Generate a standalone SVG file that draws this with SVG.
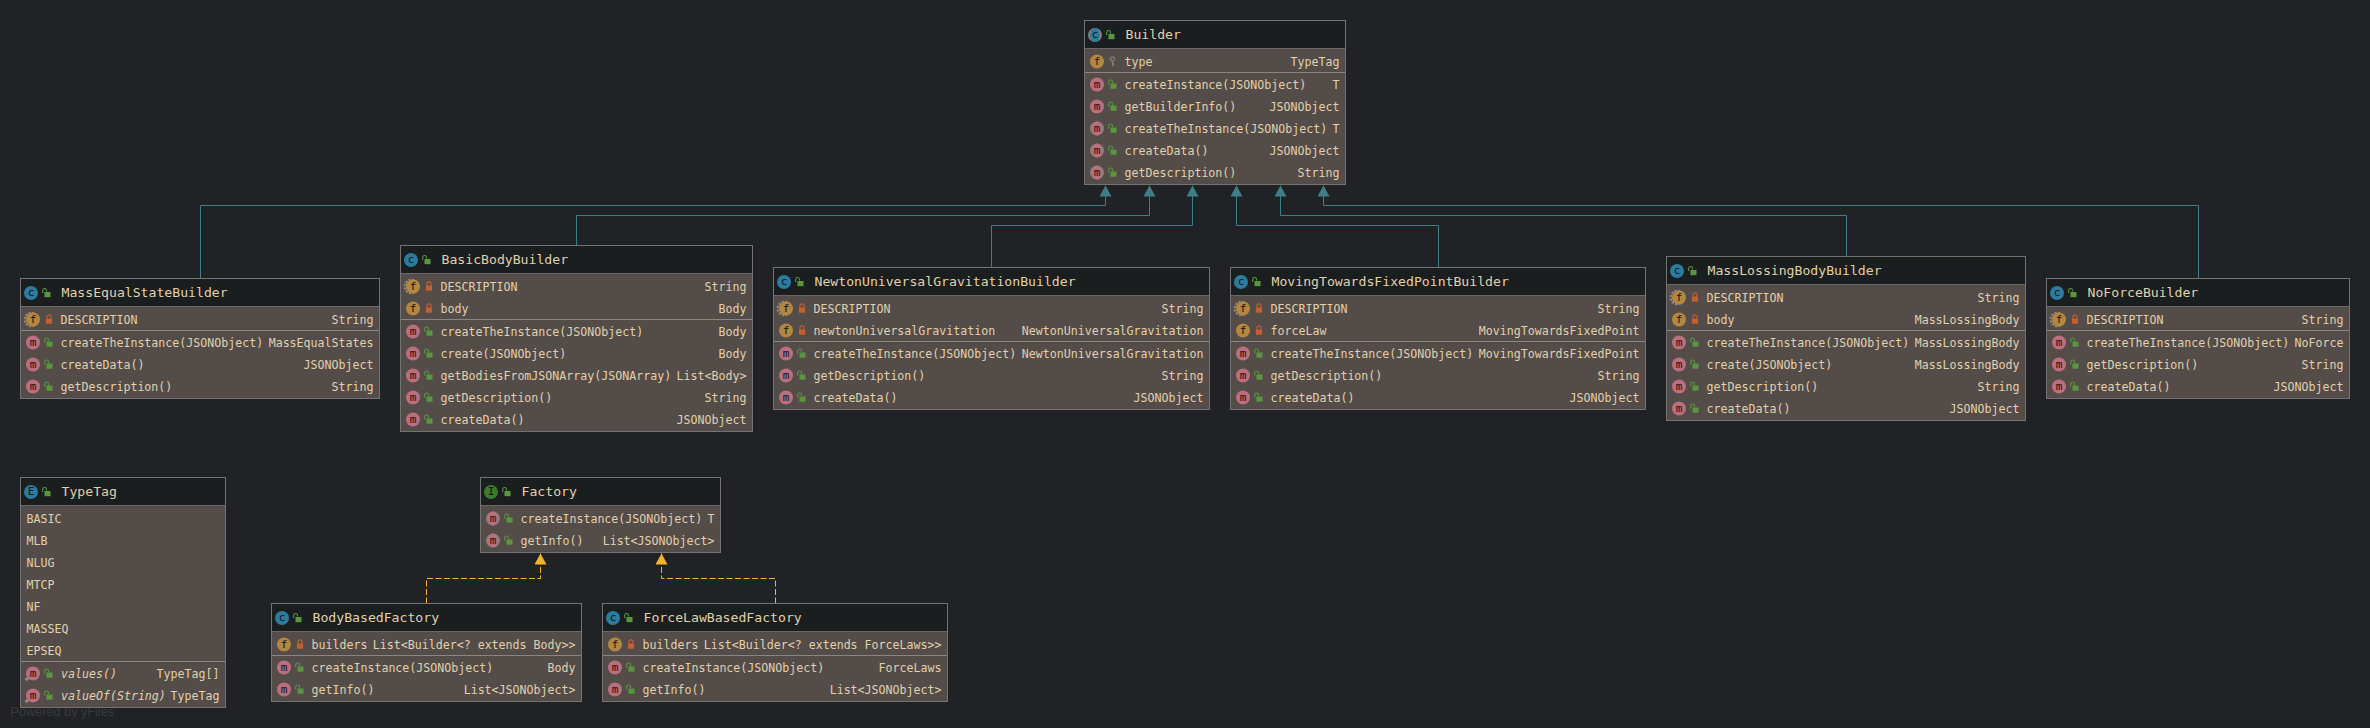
<svg xmlns="http://www.w3.org/2000/svg" width="2370" height="728" viewBox="0 0 2370 728">
<style>
text{font-family:"DejaVu Sans Mono","Liberation Mono",monospace;font-size:11.62px;fill:#E0D1AC}
.h{font-size:13.15px}
.r{text-anchor:end}
.i{font-style:italic}
.ic{font-size:11px;fill:#111;text-anchor:middle}
.pw{font-family:"Liberation Sans",Arial,sans-serif;font-size:12.7px;fill:#37393D}
.body{fill:#544C49}
.head{fill:#1A1E1F}
.frame{fill:none;stroke:#737373;stroke-width:1}
.sep{stroke:#8C8683;stroke-width:1}
.hl{stroke:#6A6766;stroke-width:1}
.inh{fill:none;stroke:#3F7E84;stroke-width:1}
.impl{fill:none;stroke:#F5B32A;stroke-width:1;stroke-dasharray:6 2.5}
</style>
<defs>
<marker id="aT" markerUnits="userSpaceOnUse" markerWidth="12" markerHeight="12" viewBox="0 0 11 12" refX="11" refY="6" orient="auto"><path d="M0 0L11 6L0 12Z" fill="#3F7E84"/></marker>
<marker id="aO" markerUnits="userSpaceOnUse" markerWidth="12" markerHeight="12" viewBox="0 0 11 12" refX="11" refY="6" orient="auto"><path d="M0 0L11 6L0 12Z" fill="#F5B32A"/></marker>
<g id="pub"><path d="M-3.8 0v-2.6a1.9 1.9 0 0 1 3.8 0v1" fill="none" stroke="#5A9640" stroke-width="1.1"/><rect x="-2" y="-1" width="6" height="5.2" fill="#5A9640"/></g>
<g id="pri"><path d="M-2 -1v-1.6a2 2 0 0 1 4 0v1.6" fill="none" stroke="#C4602F" stroke-width="1.1"/><rect x="-3.1" y="-1" width="6.2" height="5.2" fill="#C4602F"/></g>
<g id="key"><circle cx="0" cy="-2.6" r="2.1" fill="none" stroke="#8A7E76" stroke-width="1.3"/><path d="M0 -.5V4M0 2H1.6M0 4H1.6" fill="none" stroke="#8A7E76" stroke-width="1.3"/></g>
<g id="m"><circle r="7" fill="#BA6E7E"/><text class="ic" y="3.4">m</text></g>
<g id="ma"><circle r="7" fill="#8A7E7C"/><ellipse rx="5" ry="7" fill="#BA6E7E"/><text class="ic" y="3.4">m</text></g>
<g id="ms"><circle r="7" fill="#BA6E7E"/><text class="ic" y="3.4">m</text><path d="M-6.5 3.5L-4 5.5L-6 7.8L-8.5 5.8Z" fill="#8F8784"/></g>
<g id="f"><circle r="7" fill="#B2873F"/><text class="ic" y="3.4">f</text></g>
<g id="fs"><circle cx="-1.6" r="6.8" fill="none" stroke="#8F8784" stroke-width="2" stroke-dasharray="2.4 1.2"/><circle r="7" fill="#B2873F"/><text class="ic" y="3.4">f</text></g>
<g id="c"><circle r="7" fill="#2C7CA2"/><text class="ic" y="3.4">c</text></g>
<g id="ca"><circle r="7" fill="#8A7E7C"/><ellipse rx="5" ry="7" fill="#2C7CA2"/><text class="ic" y="3.4">c</text></g>
<g id="e"><circle r="7" fill="#2C7CA2"/><text class="ic" y="3.4">E</text></g>
<g id="in"><circle r="7" fill="#3D7A2C"/><text class="ic" y="3.4">I</text></g>
</defs>
<rect width="2370" height="728" fill="#202225"/>
<text class="pw" x="10.5" y="716">Powered by yFiles</text>
<g id="connectors">
<path class="inh" marker-end="url(#aT)" d="M200.5 278.5V205.5H1105.5V185.5"/>
<path class="inh" marker-end="url(#aT)" d="M576.5 245.5V215.5H1149.5V185.5"/>
<path class="inh" marker-end="url(#aT)" d="M991.5 267.5V225.5H1192.5V185.5"/>
<path class="inh" marker-end="url(#aT)" d="M1438.5 267.5V225.5H1236.5V185.5"/>
<path class="inh" marker-end="url(#aT)" d="M1846.5 256.5V215.5H1280.5V185.5"/>
<path class="inh" marker-end="url(#aT)" d="M2198.5 278.5V205.5H1323.5V185.5"/>
<path class="impl" marker-end="url(#aO)" d="M426.5 603.5V578.5H540.5V553.5"/>
<path class="impl" marker-end="url(#aO)" d="M775.5 603.5V578.5H661.5V553.5"/>
</g>
<g id="Builder" transform="translate(1084.5 20.5)">
<rect class="body" width="261" height="164"/><rect class="head" width="261" height="28"/><path class="hl" d="M0 28H261"/><path class="sep" d="M0 52H261"/><rect class="frame" width="261" height="164"/>
<use href="#ca" x="10.5" y="14.5"/><use href="#pub" x="26" y="14.5"/><text class="h" x="41" y="18.5">Builder</text>
<use href="#f" x="12.5" y="41"/><use href="#key" x="28" y="41"/><text x="40" y="45">type</text><text class="r" x="255" y="45">TypeTag</text>
<use href="#m" x="12.5" y="64"/><use href="#pub" x="28" y="64"/><text x="40" y="68">createInstance(JSONObject)</text><text class="r" x="255" y="68">T</text>
<use href="#m" x="12.5" y="86"/><use href="#pub" x="28" y="86"/><text x="40" y="90">getBuilderInfo()</text><text class="r" x="255" y="90">JSONObject</text>
<use href="#ma" x="12.5" y="108"/><use href="#pub" x="28" y="108"/><text x="40" y="112">createTheInstance(JSONObject)</text><text class="r" x="255" y="112">T</text>
<use href="#ma" x="12.5" y="130"/><use href="#pub" x="28" y="130"/><text x="40" y="134">createData()</text><text class="r" x="255" y="134">JSONObject</text>
<use href="#ma" x="12.5" y="152"/><use href="#pub" x="28" y="152"/><text x="40" y="156">getDescription()</text><text class="r" x="255" y="156">String</text>
</g>
<g id="MassEqualStateBuilder" transform="translate(20.5 278.5)">
<rect class="body" width="359" height="120"/><rect class="head" width="359" height="28"/><path class="hl" d="M0 28H359"/><path class="sep" d="M0 52H359"/><rect class="frame" width="359" height="120"/>
<use href="#c" x="10.5" y="14.5"/><use href="#pub" x="26" y="14.5"/><text class="h" x="41" y="18.5">MassEqualStateBuilder</text>
<use href="#fs" x="12.5" y="41"/><use href="#pri" x="28.5" y="41"/><text x="40" y="45">DESCRIPTION</text><text class="r" x="353" y="45">String</text>
<use href="#m" x="12.5" y="64"/><use href="#pub" x="28" y="64"/><text x="40" y="68">createTheInstance(JSONObject)</text><text class="r" x="353" y="68">MassEqualStates</text>
<use href="#m" x="12.5" y="86"/><use href="#pub" x="28" y="86"/><text x="40" y="90">createData()</text><text class="r" x="353" y="90">JSONObject</text>
<use href="#m" x="12.5" y="108"/><use href="#pub" x="28" y="108"/><text x="40" y="112">getDescription()</text><text class="r" x="353" y="112">String</text>
</g>
<g id="BasicBodyBuilder" transform="translate(400.5 245.5)">
<rect class="body" width="352" height="186"/><rect class="head" width="352" height="28"/><path class="hl" d="M0 28H352"/><path class="sep" d="M0 74H352"/><rect class="frame" width="352" height="186"/>
<use href="#c" x="10.5" y="14.5"/><use href="#pub" x="26" y="14.5"/><text class="h" x="41" y="18.5">BasicBodyBuilder</text>
<use href="#fs" x="12.5" y="41"/><use href="#pri" x="28.5" y="41"/><text x="40" y="45">DESCRIPTION</text><text class="r" x="346" y="45">String</text>
<use href="#f" x="12.5" y="63"/><use href="#pri" x="28.5" y="63"/><text x="40" y="67">body</text><text class="r" x="346" y="67">Body</text>
<use href="#m" x="12.5" y="86"/><use href="#pub" x="28" y="86"/><text x="40" y="90">createTheInstance(JSONObject)</text><text class="r" x="346" y="90">Body</text>
<use href="#m" x="12.5" y="108"/><use href="#pub" x="28" y="108"/><text x="40" y="112">create(JSONObject)</text><text class="r" x="346" y="112">Body</text>
<use href="#m" x="12.5" y="130"/><use href="#pub" x="28" y="130"/><text x="40" y="134">getBodiesFromJSONArray(JSONArray)</text><text class="r" x="346" y="134">List&lt;Body&gt;</text>
<use href="#m" x="12.5" y="152"/><use href="#pub" x="28" y="152"/><text x="40" y="156">getDescription()</text><text class="r" x="346" y="156">String</text>
<use href="#m" x="12.5" y="174"/><use href="#pub" x="28" y="174"/><text x="40" y="178">createData()</text><text class="r" x="346" y="178">JSONObject</text>
</g>
<g id="NewtonUniversalGravitationBuilder" transform="translate(773.5 267.5)">
<rect class="body" width="436" height="142"/><rect class="head" width="436" height="28"/><path class="hl" d="M0 28H436"/><path class="sep" d="M0 74H436"/><rect class="frame" width="436" height="142"/>
<use href="#c" x="10.5" y="14.5"/><use href="#pub" x="26" y="14.5"/><text class="h" x="41" y="18.5">NewtonUniversalGravitationBuilder</text>
<use href="#fs" x="12.5" y="41"/><use href="#pri" x="28.5" y="41"/><text x="40" y="45">DESCRIPTION</text><text class="r" x="430" y="45">String</text>
<use href="#f" x="12.5" y="63"/><use href="#pri" x="28.5" y="63"/><text x="40" y="67">newtonUniversalGravitation</text><text class="r" x="430" y="67">NewtonUniversalGravitation</text>
<use href="#m" x="12.5" y="86"/><use href="#pub" x="28" y="86"/><text x="40" y="90">createTheInstance(JSONObject)</text><text class="r" x="430" y="90">NewtonUniversalGravitation</text>
<use href="#m" x="12.5" y="108"/><use href="#pub" x="28" y="108"/><text x="40" y="112">getDescription()</text><text class="r" x="430" y="112">String</text>
<use href="#m" x="12.5" y="130"/><use href="#pub" x="28" y="130"/><text x="40" y="134">createData()</text><text class="r" x="430" y="134">JSONObject</text>
</g>
<g id="MovingTowardsFixedPointBuilder" transform="translate(1230.5 267.5)">
<rect class="body" width="415" height="142"/><rect class="head" width="415" height="28"/><path class="hl" d="M0 28H415"/><path class="sep" d="M0 74H415"/><rect class="frame" width="415" height="142"/>
<use href="#c" x="10.5" y="14.5"/><use href="#pub" x="26" y="14.5"/><text class="h" x="41" y="18.5">MovingTowardsFixedPointBuilder</text>
<use href="#fs" x="12.5" y="41"/><use href="#pri" x="28.5" y="41"/><text x="40" y="45">DESCRIPTION</text><text class="r" x="409" y="45">String</text>
<use href="#f" x="12.5" y="63"/><use href="#pri" x="28.5" y="63"/><text x="40" y="67">forceLaw</text><text class="r" x="409" y="67">MovingTowardsFixedPoint</text>
<use href="#m" x="12.5" y="86"/><use href="#pub" x="28" y="86"/><text x="40" y="90">createTheInstance(JSONObject)</text><text class="r" x="409" y="90">MovingTowardsFixedPoint</text>
<use href="#m" x="12.5" y="108"/><use href="#pub" x="28" y="108"/><text x="40" y="112">getDescription()</text><text class="r" x="409" y="112">String</text>
<use href="#m" x="12.5" y="130"/><use href="#pub" x="28" y="130"/><text x="40" y="134">createData()</text><text class="r" x="409" y="134">JSONObject</text>
</g>
<g id="MassLossingBodyBuilder" transform="translate(1666.5 256.5)">
<rect class="body" width="359" height="164"/><rect class="head" width="359" height="28"/><path class="hl" d="M0 28H359"/><path class="sep" d="M0 74H359"/><rect class="frame" width="359" height="164"/>
<use href="#c" x="10.5" y="14.5"/><use href="#pub" x="26" y="14.5"/><text class="h" x="41" y="18.5">MassLossingBodyBuilder</text>
<use href="#fs" x="12.5" y="41"/><use href="#pri" x="28.5" y="41"/><text x="40" y="45">DESCRIPTION</text><text class="r" x="353" y="45">String</text>
<use href="#f" x="12.5" y="63"/><use href="#pri" x="28.5" y="63"/><text x="40" y="67">body</text><text class="r" x="353" y="67">MassLossingBody</text>
<use href="#m" x="12.5" y="86"/><use href="#pub" x="28" y="86"/><text x="40" y="90">createTheInstance(JSONObject)</text><text class="r" x="353" y="90">MassLossingBody</text>
<use href="#m" x="12.5" y="108"/><use href="#pub" x="28" y="108"/><text x="40" y="112">create(JSONObject)</text><text class="r" x="353" y="112">MassLossingBody</text>
<use href="#m" x="12.5" y="130"/><use href="#pub" x="28" y="130"/><text x="40" y="134">getDescription()</text><text class="r" x="353" y="134">String</text>
<use href="#m" x="12.5" y="152"/><use href="#pub" x="28" y="152"/><text x="40" y="156">createData()</text><text class="r" x="353" y="156">JSONObject</text>
</g>
<g id="NoForceBuilder" transform="translate(2046.5 278.5)">
<rect class="body" width="303" height="120"/><rect class="head" width="303" height="28"/><path class="hl" d="M0 28H303"/><path class="sep" d="M0 52H303"/><rect class="frame" width="303" height="120"/>
<use href="#c" x="10.5" y="14.5"/><use href="#pub" x="26" y="14.5"/><text class="h" x="41" y="18.5">NoForceBuilder</text>
<use href="#fs" x="12.5" y="41"/><use href="#pri" x="28.5" y="41"/><text x="40" y="45">DESCRIPTION</text><text class="r" x="297" y="45">String</text>
<use href="#m" x="12.5" y="64"/><use href="#pub" x="28" y="64"/><text x="40" y="68">createTheInstance(JSONObject)</text><text class="r" x="297" y="68">NoForce</text>
<use href="#m" x="12.5" y="86"/><use href="#pub" x="28" y="86"/><text x="40" y="90">getDescription()</text><text class="r" x="297" y="90">String</text>
<use href="#m" x="12.5" y="108"/><use href="#pub" x="28" y="108"/><text x="40" y="112">createData()</text><text class="r" x="297" y="112">JSONObject</text>
</g>
<g id="TypeTag" transform="translate(20.5 477.5)">
<rect class="body" width="205" height="230"/><rect class="head" width="205" height="28"/><path class="hl" d="M0 28H205"/><path class="sep" d="M0 184H205"/><rect class="frame" width="205" height="230"/>
<use href="#e" x="10.5" y="14.5"/><use href="#pub" x="26" y="14.5"/><text class="h" x="41" y="18.5">TypeTag</text>
<text x="6" y="45">BASIC</text><text x="6" y="67">MLB</text><text x="6" y="89">NLUG</text><text x="6" y="111">MTCP</text><text x="6" y="133">NF</text><text x="6" y="155">MASSEQ</text><text x="6" y="177">EPSEQ</text>
<use href="#ms" x="12.5" y="196"/><use href="#pub" x="28" y="196"/><text class="i" x="40.5" y="200">values()</text><text class="r" x="199" y="200">TypeTag[]</text>
<use href="#ms" x="12.5" y="218"/><use href="#pub" x="28" y="218"/><text class="i" x="40.5" y="222">valueOf(String)</text><text class="r" x="199" y="222">TypeTag</text>
</g>
<g id="Factory" transform="translate(480.5 477.5)">
<rect class="body" width="240" height="75"/><rect class="head" width="240" height="28"/><path class="hl" d="M0 28H240"/><rect class="frame" width="240" height="75"/>
<use href="#in" x="10.5" y="14.5"/><use href="#pub" x="26" y="14.5"/><text class="h" x="41" y="18.5">Factory</text>
<use href="#ma" x="12.5" y="41"/><use href="#pub" x="28" y="41"/><text x="40" y="45">createInstance(JSONObject)</text><text class="r" x="234" y="45">T</text>
<use href="#ma" x="12.5" y="63"/><use href="#pub" x="28" y="63"/><text x="40" y="67">getInfo()</text><text class="r" x="234" y="67">List&lt;JSONObject&gt;</text>
</g>
<g id="BodyBasedFactory" transform="translate(271.5 603.5)">
<rect class="body" width="310" height="98"/><rect class="head" width="310" height="28"/><path class="hl" d="M0 28H310"/><path class="sep" d="M0 52H310"/><rect class="frame" width="310" height="98"/>
<use href="#c" x="10.5" y="14.5"/><use href="#pub" x="26" y="14.5"/><text class="h" x="41" y="18.5">BodyBasedFactory</text>
<use href="#f" x="12.5" y="41"/><use href="#pri" x="28.5" y="41"/><text x="40" y="45">builders</text><text class="r" x="304" y="45">List&lt;Builder&lt;? extends Body&gt;&gt;</text>
<use href="#m" x="12.5" y="64"/><use href="#pub" x="28" y="64"/><text x="40" y="68">createInstance(JSONObject)</text><text class="r" x="304" y="68">Body</text>
<use href="#m" x="12.5" y="86"/><use href="#pub" x="28" y="86"/><text x="40" y="90">getInfo()</text><text class="r" x="304" y="90">List&lt;JSONObject&gt;</text>
</g>
<g id="ForceLawBasedFactory" transform="translate(602.5 603.5)">
<rect class="body" width="345" height="98"/><rect class="head" width="345" height="28"/><path class="hl" d="M0 28H345"/><path class="sep" d="M0 52H345"/><rect class="frame" width="345" height="98"/>
<use href="#c" x="10.5" y="14.5"/><use href="#pub" x="26" y="14.5"/><text class="h" x="41" y="18.5">ForceLawBasedFactory</text>
<use href="#f" x="12.5" y="41"/><use href="#pri" x="28.5" y="41"/><text x="40" y="45">builders</text><text class="r" x="339" y="45">List&lt;Builder&lt;? extends ForceLaws&gt;&gt;</text>
<use href="#m" x="12.5" y="64"/><use href="#pub" x="28" y="64"/><text x="40" y="68">createInstance(JSONObject)</text><text class="r" x="339" y="68">ForceLaws</text>
<use href="#m" x="12.5" y="86"/><use href="#pub" x="28" y="86"/><text x="40" y="90">getInfo()</text><text class="r" x="339" y="90">List&lt;JSONObject&gt;</text>
</g>
</svg>
